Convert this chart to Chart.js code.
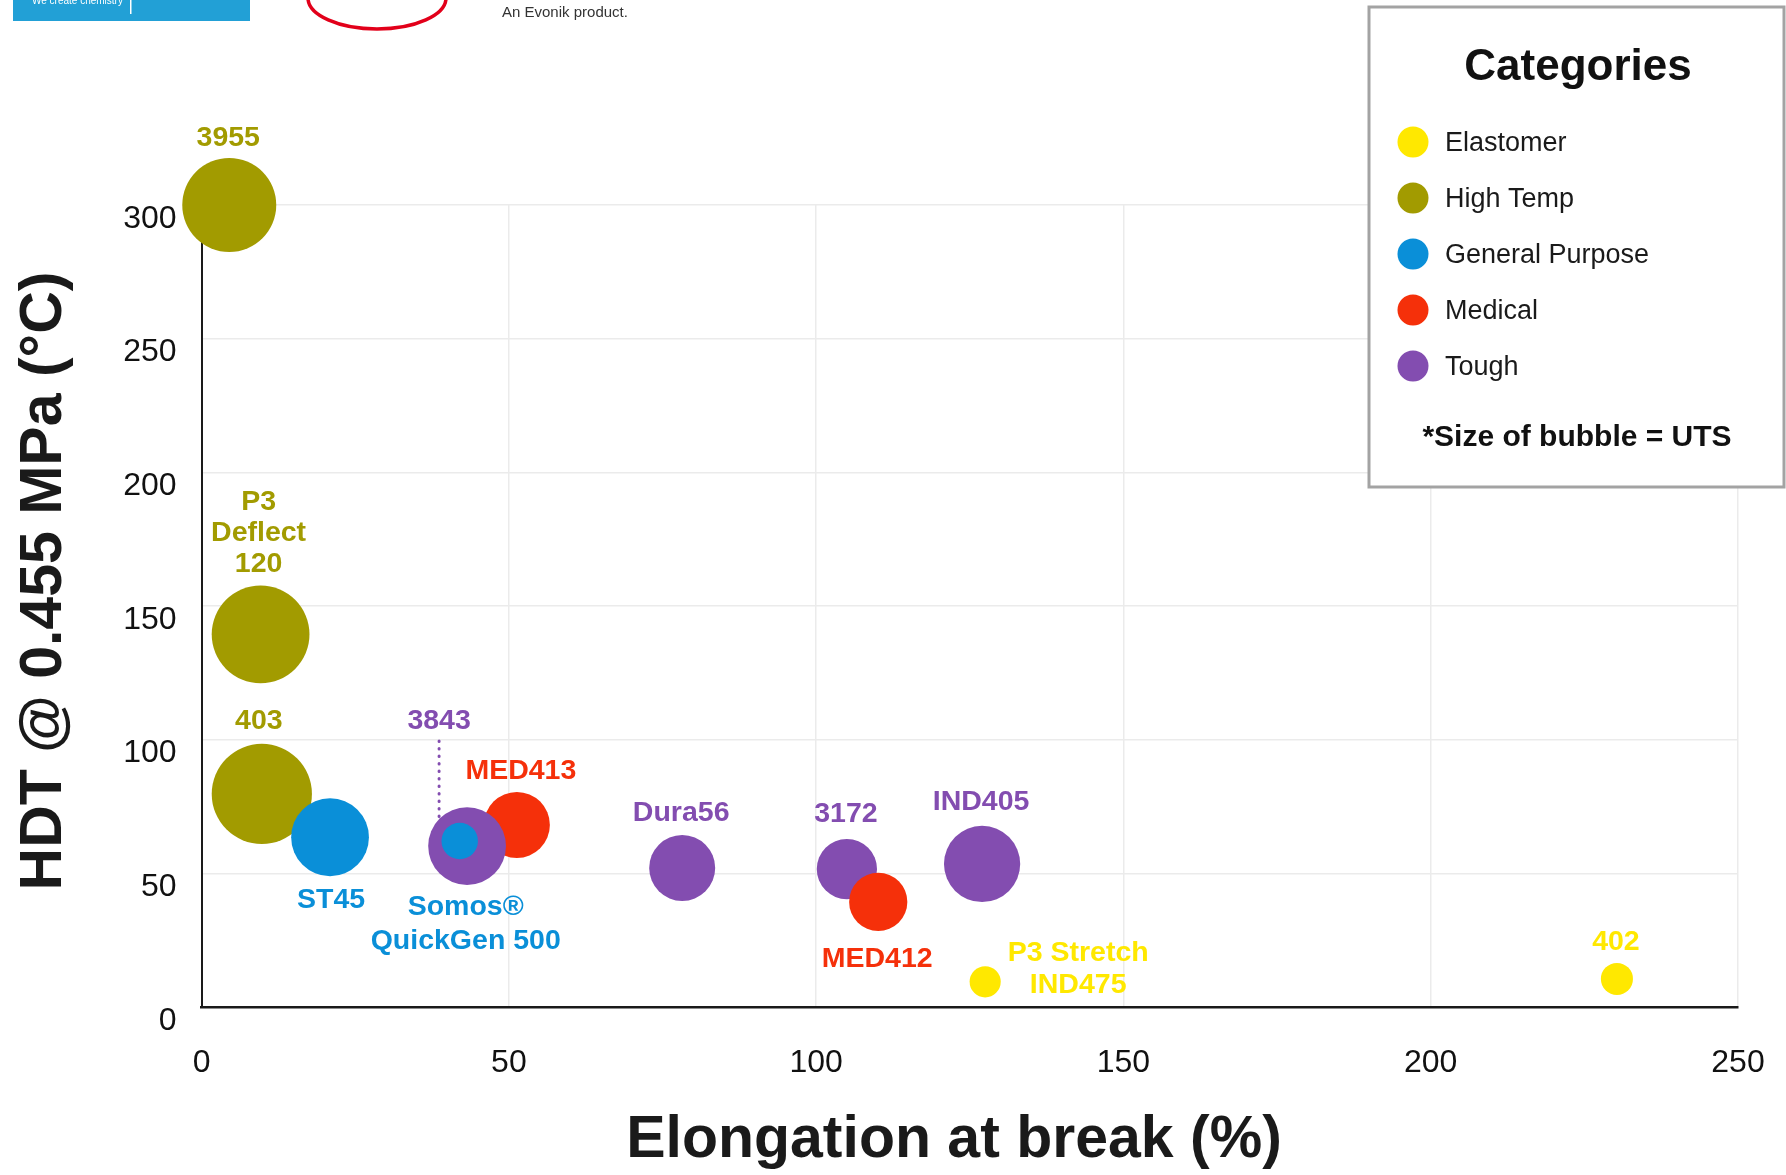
<!DOCTYPE html>
<html lang="en">
<head>
    <meta charset="UTF-8">
    <title>HDT vs Elongation at break</title>
    <script src="https://cdn.jsdelivr.net/npm/chart.js"></script>
    <style>
        html, body { margin: 0; padding: 0; background: #fff; }
        canvas { display: block; }
    </style>
</head>
<body>
    <canvas id="bubbleChart" width="1786" height="1175"></canvas>

    <script>
        // Materials (list order = drawing order, later ones end up on top)
        const materials = ['3955', 'P3 Deflect 120', '403', 'ST45', 'MED413', '3843', 'Somos QuickGen 500',
                           'Dura56', '3172', 'MED412', 'IND405', 'P3 Stretch IND475', '402'];
        const categoryOf = ['High Temp', 'High Temp', 'High Temp', 'General Purpose', 'Medical', 'Tough', 'General Purpose',
                            'Tough', 'Tough', 'Medical', 'Tough', 'Elastomer', 'Elastomer'];
        const elongation = [4.5, 9.6, 9.8, 20.9, 51.3, 43.2, 42.0, 78.2, 105.0, 110.1, 127.0, 127.5, 230.3];   // %
        const hdt        = [300, 139.4, 79.7, 63.5, 68.1, 60.2, 62.1, 52.0, 51.6, 39.3, 53.5, 9.4, 10.5];     // °C
        const uts        = [73, 79, 83, 50, 36, 50, 11, 36, 30, 28, 48, 8, 8.5];                               // bubble size
        const pointLabels = [['3955'], ['P3', 'Deflect', '120'], ['403'], ['ST45'], ['MED413'], ['3843'],
                             ['Somos®', 'QuickGen 500'], ['Dura56'], ['3172'], ['MED412'], ['IND405'],
                             ['P3 Stretch', 'IND475'], ['402']];
        const categories = ['Elastomer', 'High Temp', 'General Purpose', 'Medical', 'Tough'];
        const xTicks = [0, 50, 100, 150, 200, 250];
        const yTicks = [0, 50, 100, 150, 200, 250, 300];
        const xTitle = 'Elongation at break (%)';
        const yTitle = 'HDT @ 0.455 MPa (°C)';

        const colors = {
            'Elastomer': '#ffe800',
            'High Temp': '#a29b00',
            'General Purpose': '#0a8fd8',
            'Medical': '#f5300a',
            'Tough': '#834db0'
        };
        const FONT = '"Liberation Sans", Arial, Helvetica, sans-serif';

        // label placement relative to the bubble centre: [dx, dy, lineHeight]
        const labelPos = [[-1, -67, 31], [-2, -132, 31], [-3, -73, 31], [1, 63, 31], [4, -54, 31], [-28, -125, 31],
                          [6, 66, 34], [-1, -55, 31], [-1, -55, 31], [-1, 57, 31], [-1, -62, 31],
                          [93, -29, 32], [-1, -37, 31]];

        const labelPlugin = {
            id: 'pointLabels',
            afterDatasetsDraw(chart) {
                const ctx = chart.ctx;
                const meta = chart.getDatasetMeta(0);
                ctx.save();
                ctx.font = 'bold 28.5px ' + FONT;
                ctx.textAlign = 'center';
                ctx.textBaseline = 'middle';
                meta.data.forEach((pt, i) => {
                    const o = labelPos[i];
                    ctx.fillStyle = colors[categoryOf[i]];
                    pointLabels[i].forEach((line, k) => {
                        ctx.fillText(line, pt.x + o[0], pt.y + o[1] + k * o[2]);
                    });
                });
                // dotted leader from "3843" down to its bubble
                const p = meta.data[5];
                ctx.strokeStyle = colors['Tough'];
                ctx.lineWidth = 3;
                ctx.lineCap = 'round';
                ctx.setLineDash([0.5, 7]);
                ctx.beginPath();
                ctx.moveTo(p.x - 28, p.y - 105);
                ctx.lineTo(p.x - 28, p.y - 28);
                ctx.stroke();
                ctx.restore();
            }
        };

        // axis titles, boxed legend and the logo strip at the top
        const decorPlugin = {
            id: 'decor',
            afterDraw(chart) {
                const ctx = chart.ctx;
                ctx.save();

                // axis titles
                ctx.fillStyle = '#1a1a1a';
                ctx.textAlign = 'center';
                ctx.textBaseline = 'middle';
                ctx.font = 'bold 59px ' + FONT;
                ctx.fillText(xTitle, 954, 1141);
                ctx.save();
                ctx.translate(45, 581);
                ctx.rotate(-Math.PI / 2);
                ctx.fillText(yTitle, 0, 0);
                ctx.restore();

                // cut-off logos
                ctx.textAlign = 'left';
                ctx.textBaseline = 'alphabetic';
                ctx.fillStyle = '#22a0d6';
                ctx.fillRect(13, 0, 237, 21);
                ctx.fillStyle = '#fff';
                ctx.font = '10px ' + FONT;
                ctx.fillText('We create chemistry', 32, 4);
                ctx.fillRect(130, 0, 1.5, 14);
                ctx.strokeStyle = '#e2001a';
                ctx.lineWidth = 3.5;
                ctx.beginPath();
                ctx.ellipse(377, -2, 69, 31, 0, 0, Math.PI * 2);
                ctx.stroke();
                ctx.fillStyle = '#333';
                ctx.font = '15px ' + FONT;
                ctx.fillText('An Evonik product.', 502, 17);

                // legend box
                ctx.fillStyle = '#fff';
                ctx.fillRect(1369, 7, 415, 480);
                ctx.strokeStyle = '#a3a3a3';
                ctx.lineWidth = 3;
                ctx.strokeRect(1369, 7, 415, 480);

                ctx.fillStyle = '#111';
                ctx.textAlign = 'center';
                ctx.textBaseline = 'middle';
                ctx.font = 'bold 44px ' + FONT;
                ctx.fillText('Categories', 1578, 68);

                categories.forEach((c, i) => {
                    const y = 142 + i * 56;
                    ctx.fillStyle = colors[c];
                    ctx.beginPath();
                    ctx.arc(1413, y, 15.5, 0, Math.PI * 2);
                    ctx.fill();
                    ctx.fillStyle = '#1a1a1a';
                    ctx.textAlign = 'left';
                    ctx.font = '27px ' + FONT;
                    ctx.fillText(c, 1445, y + 2);
                });

                ctx.textAlign = 'center';
                ctx.fillStyle = '#111';
                ctx.font = 'bold 30px ' + FONT;
                ctx.fillText('*Size of bubble = UTS', 1577, 438);
                ctx.restore();
            }
        };

        const points = materials.map((m, i) => ({ x: elongation[i], y: hdt[i], r: 5.5 * Math.sqrt(uts[i]) }));

        const config = {
            type: 'bubble',
            data: {
                datasets: [{
                    label: 'Materials',
                    data: points,
                    backgroundColor: categoryOf.map(c => colors[c]),
                    hoverBackgroundColor: categoryOf.map(c => colors[c]),
                    borderWidth: 0,
                    hoverBorderWidth: 0,
                    clip: false
                }]
            },
            options: {
                responsive: false,
                animation: false,
                events: [],
                layout: { autoPadding: false, padding: { left: 0, top: 205, right: 48, bottom: 0 } },
                plugins: {
                    legend: { display: false },
                    tooltip: { enabled: false }
                },
                scales: {
                    x: {
                        type: 'linear',
                        min: 0,
                        max: 250,
                        afterBuildTicks: s => { s.ticks = xTicks.map(v => ({ value: v })); },
                        afterFit: s => { s.height = 168; s.paddingLeft = 0; s.paddingRight = 0; },
                        grid: { color: '#ebebeb', lineWidth: 1.5, drawTicks: false },
                        border: { color: '#1a1a1a', width: 2.5 },
                        ticks: { color: '#111', font: { family: FONT, size: 32 }, padding: 37, maxRotation: 0, autoSkip: false }
                    },
                    y: {
                        type: 'linear',
                        min: 0,
                        max: 300,
                        afterBuildTicks: s => { s.ticks = yTicks.map(v => ({ value: v })); },
                        afterFit: s => { s.width = 201.6; },
                        grid: { color: '#ebebeb', lineWidth: 1.5, drawTicks: false },
                        border: { color: '#1a1a1a', width: 2 },
                        ticks: { color: '#111', font: { family: FONT, size: 32 }, padding: 25, labelOffset: 14, autoSkip: false }
                    }
                }
            },
            plugins: [labelPlugin, decorPlugin]
        };

        const bubbleChart = new Chart(document.getElementById('bubbleChart'), config);
    </script>
</body>
</html>
